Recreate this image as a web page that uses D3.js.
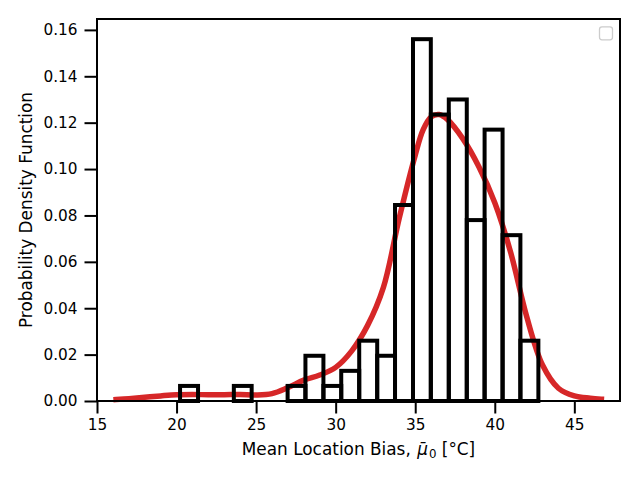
<!DOCTYPE html>
<html><head><meta charset="utf-8">
<script src="https://cdn.jsdelivr.net/npm/d3@7"></script>
<style>body{margin:0;background:#fff} text{font-family:"DejaVu Sans",sans-serif}</style>
</head><body><svg id="c" width="640" height="480"></svg>
<script>
// Histogram bin edges and densities
const binEdges = [20.22, 21.35, 22.47, 23.60, 24.72, 25.85, 26.98, 28.10, 29.23, 30.35, 31.48,
                  32.61, 33.73, 34.86, 35.98, 37.11, 38.24, 39.36, 40.49, 41.61, 42.74];
const binDensity = [0.0065, 0, 0, 0.0065, 0, 0, 0.0065, 0.0195, 0.0065, 0.013,
                    0.026, 0.0195, 0.0845, 0.156, 0.1235, 0.130, 0.078, 0.117, 0.0715, 0.026];
// KDE curve
const kdeX = [16.2, 17, 18, 19, 20, 21, 22, 23, 24, 25, 26, 27, 28, 29, 30, 31, 32, 33, 34, 35,
              35.5, 36, 36.5, 37, 38, 39, 40, 41, 42, 43, 44, 45, 46, 46.7];
const kdeY = [0.0006, 0.0010, 0.0016, 0.0022, 0.0027, 0.0028, 0.0027, 0.0027, 0.0028, 0.0026,
              0.0032, 0.0058, 0.0090, 0.0112, 0.0145, 0.0215, 0.0325, 0.049, 0.079, 0.106,
              0.117, 0.1225, 0.1235, 0.1215, 0.113, 0.101, 0.0855, 0.064, 0.0365, 0.0155,
              0.0055, 0.0022, 0.0012, 0.0008];
const xTicks = [15, 20, 25, 30, 35, 40, 45];
const yTicks = [0, 0.02, 0.04, 0.06, 0.08, 0.10, 0.12, 0.14, 0.16];

const L = 97, R = 620, T = 19, B = 401;
const svg = d3.select("#c");
const x = d3.scaleLinear().domain([15, 47.87]).range([L, R]);
const y = d3.scaleLinear().domain([0, 0.1647]).range([B, T]);
const ink = "#000";

// KDE line
const line = d3.line().x(d => x(d[0])).y(d => y(d[1])).curve(d3.curveCatmullRom.alpha(0.5));
svg.append("path").datum(kdeX.map((v, i) => [v, kdeY[i]]))
  .attr("d", line).attr("fill", "none").attr("stroke", "#d62728")
  .attr("stroke-width", 5.5).attr("stroke-linecap", "square").attr("stroke-linejoin", "round");

// Histogram bars
svg.append("g").selectAll("rect").data(binDensity).join("rect")
  .attr("x", (d, i) => x(binEdges[i]))
  .attr("width", (d, i) => x(binEdges[i + 1]) - x(binEdges[i]))
  .attr("y", d => y(d))
  .attr("height", d => y(0) - y(d))
  .attr("fill", "none").attr("stroke", ink).attr("stroke-width", 4)
  .attr("stroke-linejoin", "miter");

// Axes
const xAxis = d3.axisBottom(x).tickValues(xTicks).tickSize(12.5).tickPadding(6).tickFormat(d3.format("d"));
const gx = svg.append("g").attr("transform", `translate(0,${B})`).call(xAxis);
const yAxis = d3.axisLeft(y).tickValues(yTicks).tickSize(12.5).tickPadding(7).tickFormat(d3.format(".2f"));
const gy = svg.append("g").attr("transform", `translate(${L},0)`).call(yAxis);
[gx, gy].forEach(g => {
  g.select(".domain").remove();
  g.selectAll(".tick line").attr("stroke", ink).attr("stroke-width", 2);
  g.selectAll(".tick text").attr("fill", "#000").style("font-size", "15.3px")
    .style("font-family", "'DejaVu Sans', sans-serif");
});

// Spines
svg.append("rect").attr("x", L).attr("y", T).attr("width", R - L).attr("height", B - T)
  .attr("fill", "none").attr("stroke", ink).attr("stroke-width", 2);

// Empty legend frame
svg.append("rect").attr("x", 599.5).attr("y", 26.8).attr("width", 13).attr("height", 13)
  .attr("rx", 2.5).attr("fill", "#fff").attr("fill-opacity", 0.8)
  .attr("stroke", "#cccccc").attr("stroke-width", 1.3);

// X label
const xl = svg.append("text").attr("x", (L + R) / 2).attr("y", 455)
  .attr("text-anchor", "middle").style("font-size", "16.9px").attr("fill", "#000");
xl.append("tspan").text("Mean Location Bias, ");
xl.append("tspan").attr("dx", 1).style("font-style", "italic").text("\u03bc\u0304");
xl.append("tspan").attr("dx", 1).attr("dy", 3).style("font-size", "11.8px").text("0");
xl.append("tspan").attr("dy", -3).text(" [°C]");

// Y label
svg.append("text").attr("transform", `translate(32,${(T + B) / 2}) rotate(-90)`)
  .attr("text-anchor", "middle").style("font-size", "16.9px").attr("fill", "#000")
  .text("Probability Density Function");
</script></body></html>
